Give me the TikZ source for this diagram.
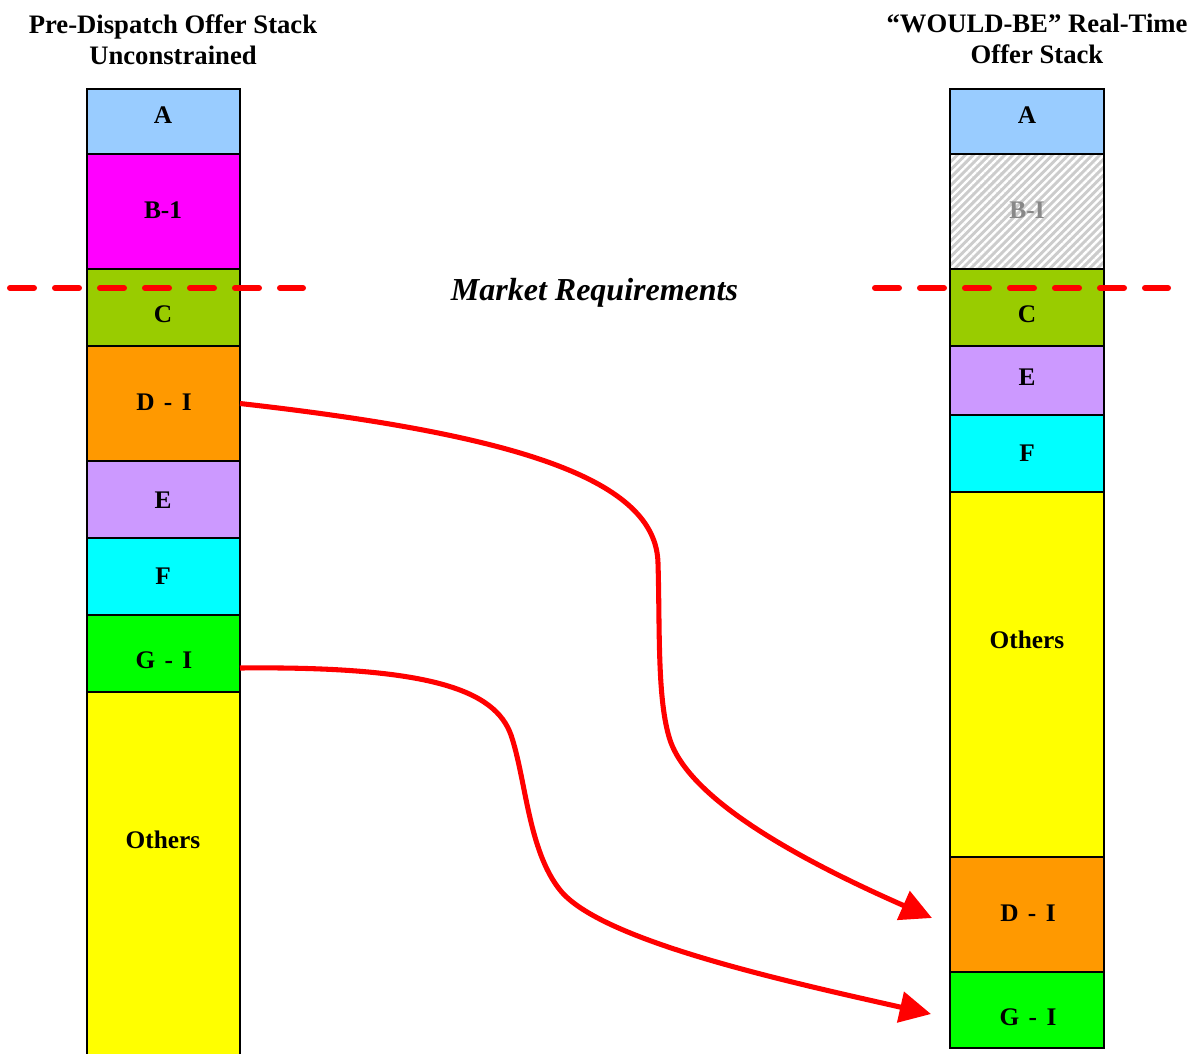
\documentclass[tikz,border=0pt]{standalone}
\usepackage{fontspec}
\setmainfont{Liberation Serif}
\usetikzlibrary{arrows.meta,patterns.meta}

\definecolor{cA}{HTML}{99CCFF}
\definecolor{cB}{HTML}{FF00FF}
\definecolor{cC}{HTML}{99CC00}
\definecolor{cD}{HTML}{FF9900}
\definecolor{cE}{HTML}{CC99FF}
\definecolor{cF}{HTML}{00FFFF}
\definecolor{cG}{HTML}{00FF00}
\definecolor{cO}{HTML}{FFFF00}
\definecolor{hatchbg}{HTML}{CCCCCC}
\definecolor{hatchtxt}{HTML}{888888}
\definecolor{flowred}{HTML}{FF0000}

\begin{document}
\begin{tikzpicture}[x=0.75pt,y=-0.75pt,
  lbox/.style={draw=black, line width=2pt, inner sep=0pt, outer sep=0pt,
               minimum width=114.75pt},
  rbox/.style={draw=black, line width=2pt, inner sep=0pt, outer sep=0pt,
               minimum width=115.5pt},
  lbl/.style={inner sep=0pt, font=\fontsize{19}{22}\selectfont\bfseries,
              execute at begin node={\spaceskip=0.37em\relax}},
  title/.style={inner sep=0pt, align=center, anchor=north,
                font=\fontsize{20}{23.25}\selectfont\bfseries},
  reqline/.style={draw=flowred, line width=4.5pt, line cap=round,
                  dash pattern=on 18pt off 15.75pt},
  flow/.style={draw=flowred, line width=3.8pt,
               -{Triangle[length=23.5pt,width=23pt]}}]

\clip (0,0) rectangle (1191,1053);

% headings
\node[title] (tl) at (173,14) {Pre-Dispatch Offer Stack\\Unconstrained};
\node[title] (tr) at (1037,14) {“WOULD-BE” Real-Time\\Offer Stack};

% left stack: pre-dispatch, unconstrained
\node[lbox, fill=cA, minimum height=65*0.75pt]  (al) at (163.5,121.5) {};
\node[lbox, fill=cB, minimum height=115*0.75pt] (bl) at (163.5,211.5) {};
\node[lbox, fill=cC, minimum height=77*0.75pt]  (cl) at (163.5,307.5) {};
\node[lbox, fill=cD, minimum height=115*0.75pt] (dl) at (163.5,403.5) {};
\node[lbox, fill=cE, minimum height=77*0.75pt]  (el) at (163.5,499.5) {};
\node[lbox, fill=cF, minimum height=77*0.75pt]  (fl) at (163.5,576.5) {};
\node[lbox, fill=cG, minimum height=77*0.75pt]  (gl) at (163.5,653.5) {};
\node[lbox, fill=cO, minimum height=380*0.75pt] (ol) at (163.5,882) {};

\node[lbl] (al-t) at (163,115) {A};
\node[lbl] (bl-t) at (163,210) {B-1};
\node[lbl] (cl-t) at (163,314) {C};
\node[lbl] (dl-t) at (164,402) {D - I};
\node[lbl] (el-t) at (163,500) {E};
\node[lbl] (fl-t) at (163,576) {F};
\node[lbl] (gl-t) at (164,660) {G - I};
\node[lbl] (ol-t) at (163,840) {Others};

% right stack: would-be real-time
\node[rbox, fill=cA, minimum height=65*0.75pt]  (ar) at (1027,121.5) {};
\node[rbox, preaction={fill=hatchbg}, minimum height=115*0.75pt,
      pattern={Lines[angle=45,distance=4.2pt,line width=1.8pt]},
      pattern color=white] (br) at (1027,211.5) {};
\node[rbox, fill=cC, minimum height=77*0.75pt]  (cr) at (1027,307.5) {};
\node[rbox, fill=cE, minimum height=69*0.75pt]  (er) at (1027,380.5) {};
\node[rbox, fill=cF, minimum height=77*0.75pt]  (fr) at (1027,453.5) {};
\node[rbox, fill=cO, minimum height=365*0.75pt] (or) at (1027,674.5) {};
\node[rbox, fill=cD, minimum height=115*0.75pt] (dr) at (1027,914.5) {};
\node[rbox, fill=cG, minimum height=76*0.75pt]  (gr) at (1027,1010) {};

\node[lbl] (ar-t) at (1027,115) {A};
\node[lbl, text=hatchtxt] (br-t) at (1027,210) {B-I};
\node[lbl] (cr-t) at (1027,314) {C};
\node[lbl] (er-t) at (1027,377) {E};
\node[lbl] (fr-t) at (1027,453) {F};
\node[lbl] (or-t) at (1027,640) {Others};
\node[lbl] (dr-t) at (1028,913) {D - I};
\node[lbl] (gr-t) at (1028,1017) {G - I};

% market requirements level
\coordinate (reqL1) at (10,288);
\coordinate (reqL2) at (303,288);
\coordinate (reqR1) at (875,288);
\coordinate (reqR2) at (1168,288);
\draw[reqline] (reqL1) -- (reqL2);
\draw[reqline] (reqR1) -- (reqR2);
\node[inner sep=0pt, anchor=base,
      font=\fontsize{24}{28}\selectfont\bfseries\itshape] (req) at (594.5,300)
      {Market Requirements};

% re-ordered offers
\draw[flow] (dl.east) .. controls (520,435) and (656,480) .. (658,563)
  .. controls (660,630) and (657,700) .. (670,740)
  .. controls (690,800) and (800,860) .. ([shift={(-18,3.5)}]dr.west);
\draw[flow] ([shift={(0,14.5)}]gl.east) .. controls (430,666) and (495,690) .. (511,735)
  .. controls (526,779) and (528,850) .. (560,890)
  .. controls (600,940) and (780,980) .. ([shift={(-19,4)}]gr.west);
\end{tikzpicture}
\end{document}
